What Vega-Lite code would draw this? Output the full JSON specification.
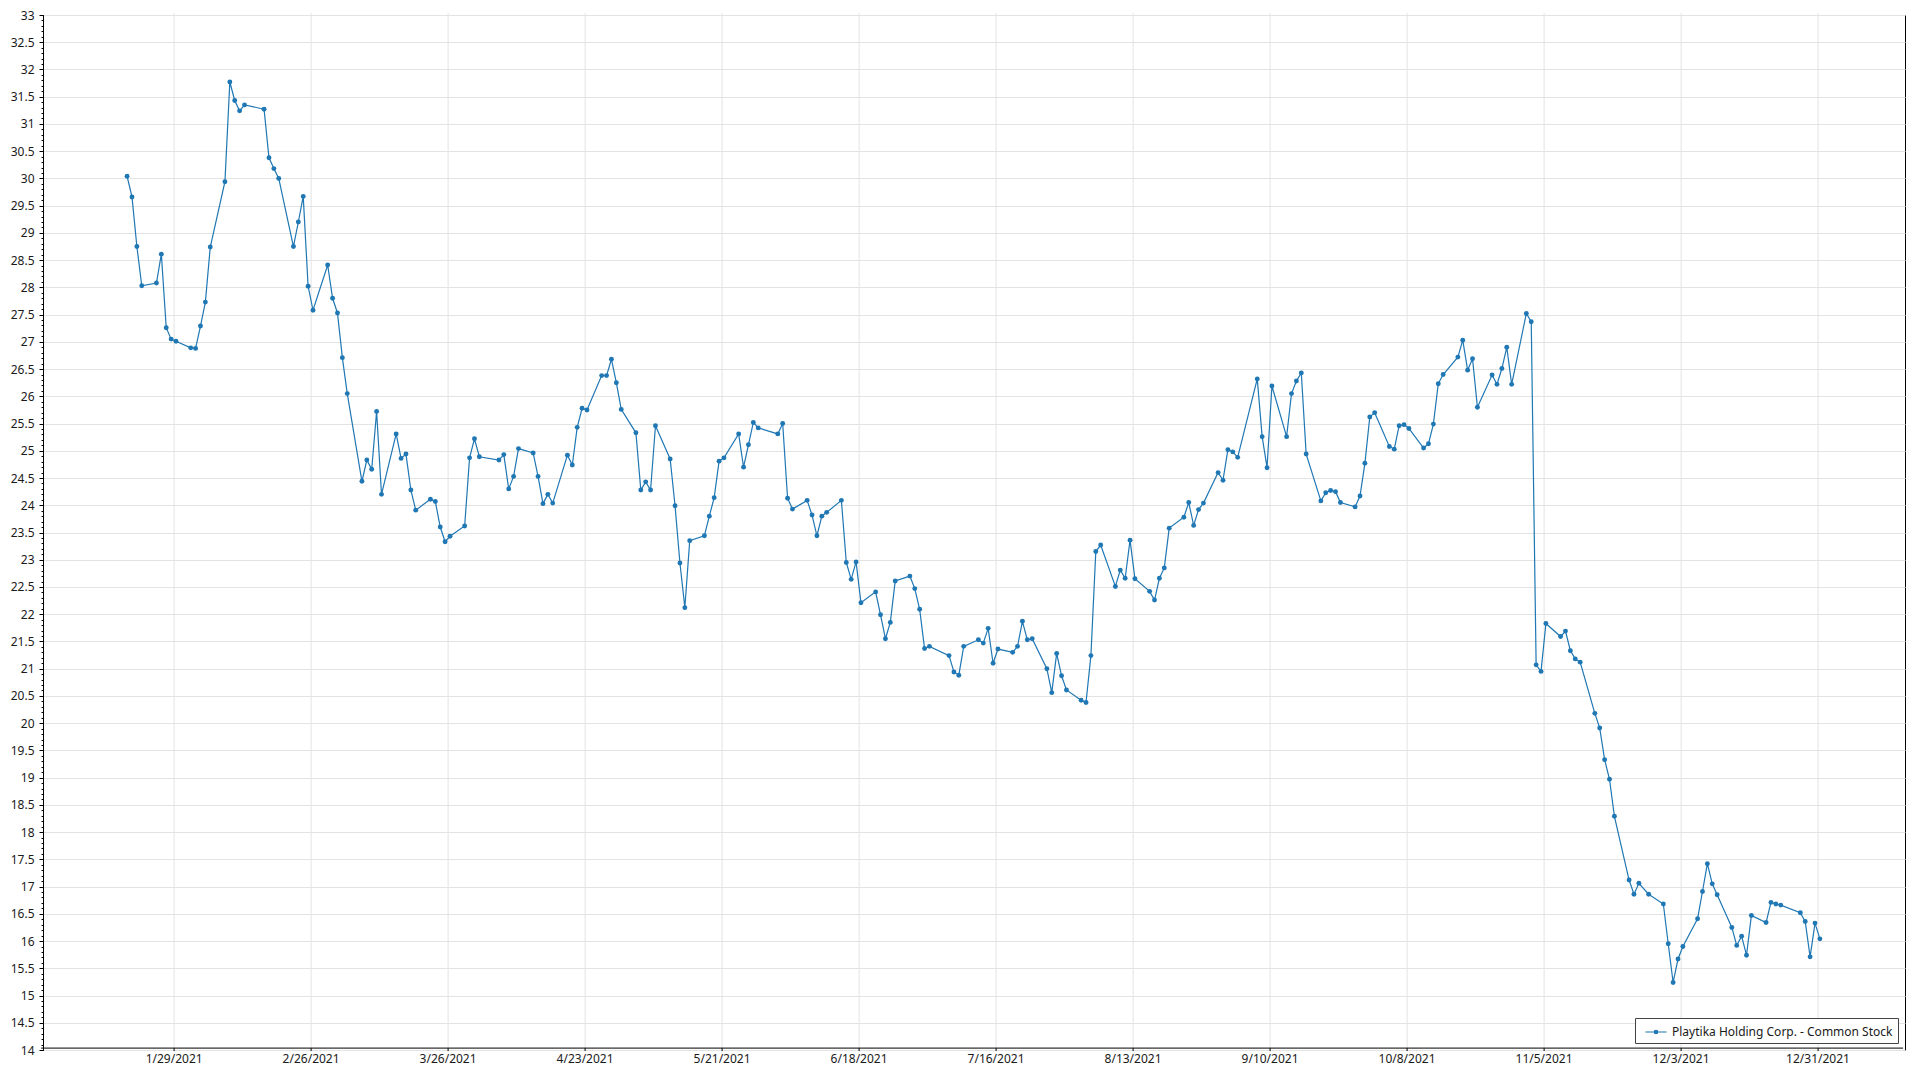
{
 "$schema": "https://vega.github.io/schema/vega-lite/v6.json",
 "width": 1862,
 "height": 1035,
 "autosize": {"type": "none"},
 "padding": {"left": 43, "top": 15, "right": 15, "bottom": 30},
 "background": "white",
 "config": {
  "font": "Noto Sans",
  "view": {"stroke": "#000", "strokeWidth": 1},
  "axis": {"labelFont": "Noto Sans", "labelFontSize": 12, "labelColor": "#1a1a1a", "domainColor": "#000", "tickColor": "#000", "gridColor": "#e3e3e3", "gridWidth": 1}
 },
 "data": {
  "format": {"parse": {"date": "date:'%Y-%m-%d'"}},
  "values": [
   {"date":"2021-01-19","close":30.04},{"date":"2021-01-20","close":29.66},{"date":"2021-01-21","close":28.75},{"date":"2021-01-22","close":28.03},
   {"date":"2021-01-25","close":28.08},{"date":"2021-01-26","close":28.61},{"date":"2021-01-27","close":27.26},{"date":"2021-01-28","close":27.05},{"date":"2021-01-29","close":27.01},
   {"date":"2021-02-01","close":26.89},{"date":"2021-02-02","close":26.88},{"date":"2021-02-03","close":27.29},{"date":"2021-02-04","close":27.73},{"date":"2021-02-05","close":28.74},
   {"date":"2021-02-08","close":29.94},{"date":"2021-02-09","close":31.77},{"date":"2021-02-10","close":31.43},{"date":"2021-02-11","close":31.24},{"date":"2021-02-12","close":31.35},
   {"date":"2021-02-16","close":31.27},{"date":"2021-02-17","close":30.38},{"date":"2021-02-18","close":30.18},{"date":"2021-02-19","close":30.00},
   {"date":"2021-02-22","close":28.75},{"date":"2021-02-23","close":29.20},{"date":"2021-02-24","close":29.67},{"date":"2021-02-25","close":28.02},{"date":"2021-02-26","close":27.58},
   {"date":"2021-03-01","close":28.41},{"date":"2021-03-02","close":27.80},{"date":"2021-03-03","close":27.53},{"date":"2021-03-04","close":26.71},{"date":"2021-03-05","close":26.05},
   {"date":"2021-03-08","close":24.44},{"date":"2021-03-09","close":24.83},{"date":"2021-03-10","close":24.66},{"date":"2021-03-11","close":25.72},{"date":"2021-03-12","close":24.20},
   {"date":"2021-03-15","close":25.31},{"date":"2021-03-16","close":24.86},{"date":"2021-03-17","close":24.94},{"date":"2021-03-18","close":24.28},{"date":"2021-03-19","close":23.91},
   {"date":"2021-03-22","close":24.11},{"date":"2021-03-23","close":24.07},{"date":"2021-03-24","close":23.60},{"date":"2021-03-25","close":23.33},{"date":"2021-03-26","close":23.43},
   {"date":"2021-03-29","close":23.62},{"date":"2021-03-30","close":24.87},{"date":"2021-03-31","close":25.22},{"date":"2021-04-01","close":24.89},
   {"date":"2021-04-05","close":24.83},{"date":"2021-04-06","close":24.93},{"date":"2021-04-07","close":24.30},{"date":"2021-04-08","close":24.53},{"date":"2021-04-09","close":25.04},
   {"date":"2021-04-12","close":24.96},{"date":"2021-04-13","close":24.53},{"date":"2021-04-14","close":24.03},{"date":"2021-04-15","close":24.20},{"date":"2021-04-16","close":24.04},
   {"date":"2021-04-19","close":24.92},{"date":"2021-04-20","close":24.74},{"date":"2021-04-21","close":25.43},{"date":"2021-04-22","close":25.78},{"date":"2021-04-23","close":25.75},
   {"date":"2021-04-26","close":26.38},{"date":"2021-04-27","close":26.38},{"date":"2021-04-28","close":26.68},{"date":"2021-04-29","close":26.25},{"date":"2021-04-30","close":25.76},
   {"date":"2021-05-03","close":25.33},{"date":"2021-05-04","close":24.28},{"date":"2021-05-05","close":24.43},{"date":"2021-05-06","close":24.28},{"date":"2021-05-07","close":25.46},
   {"date":"2021-05-10","close":24.85},{"date":"2021-05-11","close":23.99},{"date":"2021-05-12","close":22.94},{"date":"2021-05-13","close":22.12},{"date":"2021-05-14","close":23.35},
   {"date":"2021-05-17","close":23.44},{"date":"2021-05-18","close":23.80},{"date":"2021-05-19","close":24.14},{"date":"2021-05-20","close":24.81},{"date":"2021-05-21","close":24.87},
   {"date":"2021-05-24","close":25.31},{"date":"2021-05-25","close":24.70},{"date":"2021-05-26","close":25.11},{"date":"2021-05-27","close":25.52},{"date":"2021-05-28","close":25.42},
   {"date":"2021-06-01","close":25.31},{"date":"2021-06-02","close":25.50},{"date":"2021-06-03","close":24.13},{"date":"2021-06-04","close":23.93},
   {"date":"2021-06-07","close":24.09},{"date":"2021-06-08","close":23.82},{"date":"2021-06-09","close":23.44},{"date":"2021-06-10","close":23.80},{"date":"2021-06-11","close":23.87},
   {"date":"2021-06-14","close":24.09},{"date":"2021-06-15","close":22.95},{"date":"2021-06-16","close":22.64},{"date":"2021-06-17","close":22.96},{"date":"2021-06-18","close":22.21},
   {"date":"2021-06-21","close":22.41},{"date":"2021-06-22","close":21.99},{"date":"2021-06-23","close":21.55},{"date":"2021-06-24","close":21.85},{"date":"2021-06-25","close":22.61},
   {"date":"2021-06-28","close":22.70},{"date":"2021-06-29","close":22.47},{"date":"2021-06-30","close":22.09},{"date":"2021-07-01","close":21.37},{"date":"2021-07-02","close":21.41},
   {"date":"2021-07-06","close":21.24},{"date":"2021-07-07","close":20.94},{"date":"2021-07-08","close":20.88},{"date":"2021-07-09","close":21.41},
   {"date":"2021-07-12","close":21.53},{"date":"2021-07-13","close":21.47},{"date":"2021-07-14","close":21.74},{"date":"2021-07-15","close":21.10},{"date":"2021-07-16","close":21.36},
   {"date":"2021-07-19","close":21.30},{"date":"2021-07-20","close":21.41},{"date":"2021-07-21","close":21.87},{"date":"2021-07-22","close":21.53},{"date":"2021-07-23","close":21.55},
   {"date":"2021-07-26","close":21.00},{"date":"2021-07-27","close":20.56},{"date":"2021-07-28","close":21.28},{"date":"2021-07-29","close":20.87},{"date":"2021-07-30","close":20.61},
   {"date":"2021-08-02","close":20.42},{"date":"2021-08-03","close":20.38},{"date":"2021-08-04","close":21.24},{"date":"2021-08-05","close":23.15},{"date":"2021-08-06","close":23.27},
   {"date":"2021-08-09","close":22.51},{"date":"2021-08-10","close":22.81},{"date":"2021-08-11","close":22.66},{"date":"2021-08-12","close":23.36},{"date":"2021-08-13","close":22.65},
   {"date":"2021-08-16","close":22.42},{"date":"2021-08-17","close":22.26},{"date":"2021-08-18","close":22.66},{"date":"2021-08-19","close":22.85},{"date":"2021-08-20","close":23.58},
   {"date":"2021-08-23","close":23.78},{"date":"2021-08-24","close":24.05},{"date":"2021-08-25","close":23.63},{"date":"2021-08-26","close":23.92},{"date":"2021-08-27","close":24.04},
   {"date":"2021-08-30","close":24.60},{"date":"2021-08-31","close":24.46},{"date":"2021-09-01","close":25.02},{"date":"2021-09-02","close":24.98},{"date":"2021-09-03","close":24.88},
   {"date":"2021-09-07","close":26.32},{"date":"2021-09-08","close":25.26},{"date":"2021-09-09","close":24.69},{"date":"2021-09-10","close":26.19},
   {"date":"2021-09-13","close":25.26},{"date":"2021-09-14","close":26.05},{"date":"2021-09-15","close":26.28},{"date":"2021-09-16","close":26.43},{"date":"2021-09-17","close":24.94},
   {"date":"2021-09-20","close":24.08},{"date":"2021-09-21","close":24.23},{"date":"2021-09-22","close":24.27},{"date":"2021-09-23","close":24.25},{"date":"2021-09-24","close":24.05},
   {"date":"2021-09-27","close":23.97},{"date":"2021-09-28","close":24.17},{"date":"2021-09-29","close":24.77},{"date":"2021-09-30","close":25.62},{"date":"2021-10-01","close":25.70},
   {"date":"2021-10-04","close":25.08},{"date":"2021-10-05","close":25.03},{"date":"2021-10-06","close":25.46},{"date":"2021-10-07","close":25.48},{"date":"2021-10-08","close":25.41},
   {"date":"2021-10-11","close":25.05},{"date":"2021-10-12","close":25.13},{"date":"2021-10-13","close":25.49},{"date":"2021-10-14","close":26.23},{"date":"2021-10-15","close":26.40},
   {"date":"2021-10-18","close":26.72},{"date":"2021-10-19","close":27.03},{"date":"2021-10-20","close":26.48},{"date":"2021-10-21","close":26.69},{"date":"2021-10-22","close":25.80},
   {"date":"2021-10-25","close":26.39},{"date":"2021-10-26","close":26.22},{"date":"2021-10-27","close":26.51},{"date":"2021-10-28","close":26.90},{"date":"2021-10-29","close":26.22},
   {"date":"2021-11-01","close":27.52},{"date":"2021-11-02","close":27.37},{"date":"2021-11-03","close":21.07},{"date":"2021-11-04","close":20.95},{"date":"2021-11-05","close":21.83},
   {"date":"2021-11-08","close":21.59},{"date":"2021-11-09","close":21.69},{"date":"2021-11-10","close":21.33},{"date":"2021-11-11","close":21.18},{"date":"2021-11-12","close":21.12},
   {"date":"2021-11-15","close":20.18},{"date":"2021-11-16","close":19.91},{"date":"2021-11-17","close":19.33},{"date":"2021-11-18","close":18.97},{"date":"2021-11-19","close":18.29},
   {"date":"2021-11-22","close":17.12},{"date":"2021-11-23","close":16.86},{"date":"2021-11-24","close":17.06},{"date":"2021-11-26","close":16.86},
   {"date":"2021-11-29","close":16.68},{"date":"2021-11-30","close":15.95},{"date":"2021-12-01","close":15.24},{"date":"2021-12-02","close":15.67},{"date":"2021-12-03","close":15.90},
   {"date":"2021-12-06","close":16.41},{"date":"2021-12-07","close":16.91},{"date":"2021-12-08","close":17.42},{"date":"2021-12-09","close":17.05},{"date":"2021-12-10","close":16.85},
   {"date":"2021-12-13","close":16.25},{"date":"2021-12-14","close":15.92},{"date":"2021-12-15","close":16.09},{"date":"2021-12-16","close":15.74},{"date":"2021-12-17","close":16.47},
   {"date":"2021-12-20","close":16.34},{"date":"2021-12-21","close":16.71},{"date":"2021-12-22","close":16.68},{"date":"2021-12-23","close":16.66},
   {"date":"2021-12-27","close":16.52},{"date":"2021-12-28","close":16.36},{"date":"2021-12-29","close":15.71},{"date":"2021-12-30","close":16.33},{"date":"2021-12-31","close":16.04}
  ]
 },
 "encoding": {
  "x": {
   "field": "date",
   "type": "temporal",
   "scale": {"domain": [{"year": 2021, "month": 1, "date": 1, "hours": 19, "minutes": 30}, {"year": 2022, "month": 1, "date": 17, "hours": 9, "minutes": 30}]},
   "axis": {
    "title": null,
    "format": "%-m/%-d/%Y",
    "labelAngle": 0,
    "grid": true,
    "tickSize": 3,
    "labelPadding": 3,
    "labelFlush": false,
    "labelOverlap": false,
    "translate": -1.9,
    "values": [
     {"year": 2021, "month": 1, "date": 29}, {"year": 2021, "month": 2, "date": 26}, {"year": 2021, "month": 3, "date": 26},
     {"year": 2021, "month": 4, "date": 23}, {"year": 2021, "month": 5, "date": 21}, {"year": 2021, "month": 6, "date": 18},
     {"year": 2021, "month": 7, "date": 16}, {"year": 2021, "month": 8, "date": 13}, {"year": 2021, "month": 9, "date": 10},
     {"year": 2021, "month": 10, "date": 8}, {"year": 2021, "month": 11, "date": 5}, {"year": 2021, "month": 12, "date": 3},
     {"year": 2021, "month": 12, "date": 31}
    ]
   }
  }
 },
 "layer": [
  {
   "mark": {"type": "line", "color": "#1f77b4", "strokeWidth": 1.2},
   "encoding": {
    "y": {
     "field": "close",
     "type": "quantitative",
     "scale": {"domain": [14, 33], "nice": false, "zero": false},
     "axis": {
      "title": null,
      "grid": true,
      "format": "~g",
      "tickSize": 4,
      "labelPadding": 5,
      "values": [14,14.5,15,15.5,16,16.5,17,17.5,18,18.5,19,19.5,20,20.5,21,21.5,22,22.5,23,23.5,24,24.5,25,25.5,26,26.5,27,27.5,28,28.5,29,29.5,30,30.5,31,31.5,32,32.5,33]
     }
    }
   }
  },
  {
   "mark": {"type": "point", "filled": true, "opacity": 1, "size": 24},
   "encoding": {
    "y": {
     "field": "close",
     "type": "quantitative",
     "scale": {"domain": [14, 33], "nice": false, "zero": false},
     "axis": {"title": null, "orient": "left", "labels": false, "grid": false, "domain": false, "tickSize": 2, "tickCount": 190}
    },
    "color": {
     "datum": "Playtika Holding Corp. - Common Stock",
     "scale": {"range": ["#1f77b4"]},
     "legend": {
      "title": null,
      "orient": "bottom-right",
      "offset": 7,
      "padding": 5,
      "fillColor": "white",
      "strokeColor": "#444",
      "labelFont": "Noto Sans",
      "labelFontSize": 12,
      "labelColor": "#1a1a1a",
      "labelLimit": 0,
      "symbolType": "M-1.3125,0L1.3125,0M0.22,0A0.22,0.22,0,1,1,-0.22,0A0.22,0.22,0,1,1,0.22,0Z",
      "symbolSize": 256,
      "symbolOffset": 7,
      "labelOffset": 7,
      "symbolStrokeWidth": 1.2,
      "symbolFillColor": "#1f77b4",
      "symbolStrokeColor": "#1f77b4",
      "symbolOpacity": 1
     }
    }
   }
  }
 ],
 "resolve": {"axis": {"y": "independent"}}
}
